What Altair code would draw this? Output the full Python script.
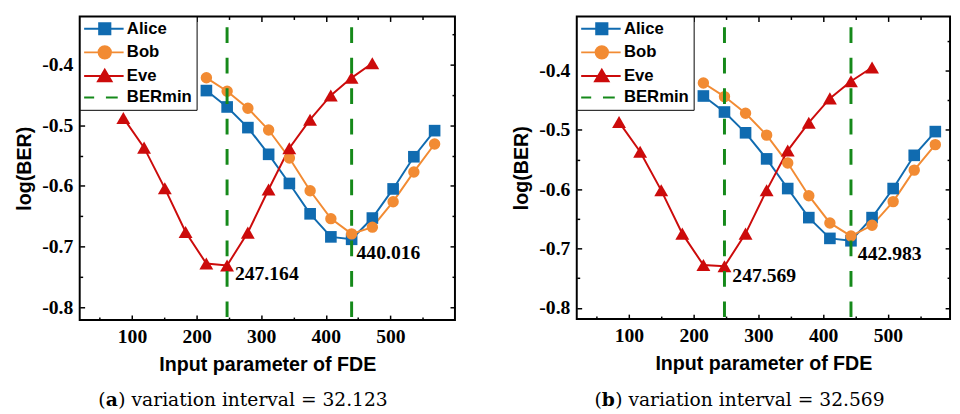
import altair as alt
import pandas as pd

# ---------------- data ----------------
names = ["Alice", "Bob", "Eve"]
legend_names = ["Alice", "Bob", "Eve", "BERmin"]
colors = ["#106bb0", "#f28b33", "#cc0b0b"]
green = "#15891a"

x_major = [100, 200, 300, 400, 500]
x_minor = [50, 150, 250, 350, 450, 550]
y_major = [-0.8, -0.7, -0.6, -0.5, -0.4]
y_minor = [-0.75, -0.65, -0.55, -0.45, -0.35]

# panel (a)
a_x_ab = [215.155, 247.278, 279.401, 311.524, 343.647, 375.770, 407.893, 440.016,
          472.139, 504.262, 536.385, 568.508]
a_x_eve = [86.549, 118.672, 150.795, 182.918, 215.041, 247.164, 279.287, 311.410,
           343.533, 375.656, 407.779, 439.902, 472.025]
a_alice = [-0.443, -0.470, -0.504, -0.548, -0.596, -0.646, -0.684, -0.688, -0.653,
           -0.605, -0.552, -0.509]
a_bob = [-0.422, -0.444, -0.472, -0.508, -0.554, -0.608, -0.654, -0.679, -0.668,
         -0.626, -0.577, -0.531]
a_eve = [-0.488, -0.537, -0.604, -0.676, -0.728, -0.731, -0.677, -0.606, -0.538,
         -0.491, -0.451, -0.422, -0.398]
a_ber = [247.164, 440.016]
a_ann_y = [-0.731, -0.688]
a_labels = ["247.164", "440.016"]
a_letter = "a"
a_rest = "variation interval = 32.123"

# panel (b)
b_x_ab = [215.000, 247.569, 280.138, 312.707, 345.276, 377.845, 410.414, 442.983,
          475.552, 508.121, 540.690, 573.259]
b_x_eve = [84.724, 117.293, 149.862, 182.431, 215.000, 247.569, 280.138, 312.707,
           345.276, 377.845, 410.414, 442.983, 475.552]
b_alice = [-0.443, -0.470, -0.505, -0.549, -0.599, -0.648, -0.683, -0.687, -0.648,
           -0.599, -0.543, -0.503]
b_bob = [-0.421, -0.444, -0.472, -0.509, -0.556, -0.611, -0.657, -0.679, -0.661,
         -0.621, -0.568, -0.525]
b_eve = [-0.487, -0.537, -0.602, -0.675, -0.728, -0.730, -0.675, -0.602, -0.535,
         -0.488, -0.447, -0.418, -0.395]
b_ber = [247.569, 442.983]
b_ann_y = [-0.730, -0.687]
b_labels = ["247.569", "442.983"]
b_letter = "b"
b_rest = "variation interval = 32.569"

# legend symbols (custom paths: line segment + marker)
legend_paths = [
    "M-3.5,0H3.2M-0.95,-0.95H0.95V0.95H-0.95Z",
    "M-3.5,0H3.2M-1.05,0A1.05,1.05,0,1,1,1.05,0A1.05,1.05,0,1,1,-1.05,0Z",
    "M-3.5,0H3.2M0,-1.05L1.15,0.9L-1.15,0.9Z",
    "M-3.5,0H-1.8M0.2,0H2.2",
]
legend_colors = colors + [green]

SERIF = "Liberation Serif"
SANS = "Liberation Sans"
CAPFONT = "DejaVu Serif"
MINUS = "\u2212"


def panel(x_ab, x_eve, alice, bob, eve, ber, ann_y, labels, letter, rest,
          xdom, ydom, W, H, ann_dx, ann_dy, cap_x, cap_y, letter_w):
    df = pd.DataFrame({
        "x": x_ab + x_ab + x_eve,
        "y": alice + bob + eve,
        "series": ["Alice"] * len(x_ab) + ["Bob"] * len(x_ab) + ["Eve"] * len(x_eve),
    })
    X = alt.Scale(domain=xdom, nice=False, zero=False)
    Y = alt.Scale(domain=ydom, nice=False, zero=False)
    col = alt.Scale(domain=names, range=colors)
    base = alt.Chart(df)

    xaxis = alt.Axis(orient="bottom", values=x_major, ticks=False, tickSize=0, domain=False,
                     grid=False, labelFont=SERIF, labelFontWeight="bold", labelFontSize=20,
                     labelColor="black", labelPadding=7, title="Input parameter of FDE",
                     titleFont=SANS, titleFontWeight="bold", titleFontSize=20,
                     titleColor="black", titlePadding=8)
    yaxis = alt.Axis(orient="left", values=y_major, ticks=False, tickSize=0, domain=False,
                     grid=False, labelFont=SERIF, labelFontWeight="bold", labelFontSize=20,
                     labelColor="black", labelPadding=7,
                     labelExpr="replace(format(datum.value, '.1f'), '" + MINUS + "', '-')",
                     title="log(BER)", titleFont=SANS, titleFontWeight="bold",
                     titleFontSize=20, titleColor="black", titlePadding=7)

    lines = base.mark_line(strokeWidth=2).encode(
        x=alt.X("x:Q", scale=X, axis=xaxis),
        y=alt.Y("y:Q", scale=Y, axis=yaxis),
        color=alt.Color("series:N", scale=col, legend=None),
        detail="series:N",
    )

    point_specs = [("Alice", "square", 140, colors[0]),
                   ("Bob", "circle", 135, colors[1]),
                   ("Eve", "triangle-up", 200, colors[2])]
    pts = []
    for s, shp, sz, c in point_specs:
        pts.append(
            base.transform_filter(alt.datum.series == s)
            .mark_point(filled=True, opacity=1, shape=shp, size=sz, color=c)
            .encode(x=alt.X("x:Q", scale=X, axis=None), y=alt.Y("y:Q", scale=Y, axis=None))
        )

    rules = alt.Chart(pd.DataFrame({"x": ber})).mark_rule(
        color=green, strokeWidth=3, strokeDash=[16, 15], strokeDashOffset=20
    ).encode(x=alt.X("x:Q", scale=X, axis=None))

    adf = pd.DataFrame({"x": ber, "y": ann_y, "label": labels})
    anns = []
    for i in range(2):
        anns.append(
            alt.Chart(adf.iloc[[i]]).mark_text(
                font=SERIF, fontWeight="bold", fontSize=20, align="left",
                baseline="middle", dx=ann_dx[i], dy=ann_dy[i], color="black"
            ).encode(x=alt.X("x:Q", scale=X, axis=None), y=alt.Y("y:Q", scale=Y, axis=None),
                     text="label:N")
        )

    leg = alt.Legend(title=None, orient="top-left", offset=0, padding=4,
                     strokeColor="black", fillColor="white", symbolSize=144,
                     symbolStrokeWidth=2, symbolOpacity=1, symbolOffset=13, labelOffset=14,
                     rowPadding=3, labelFont=SANS, labelFontWeight="bold", labelFontSize=17,
                     labelColor="black", labelLimit=300)
    legend_layer = base.transform_filter("false").mark_point(strokeWidth=2, opacity=1).encode(
        x=alt.X("x:Q", scale=X, axis=None),
        y=alt.Y("y:Q", scale=Y, axis=None),
        fill=alt.Fill("series:N", scale=alt.Scale(domain=legend_names, range=legend_colors), legend=leg),
        stroke=alt.Stroke("series:N", scale=alt.Scale(domain=legend_names, range=legend_colors), legend=leg),
        shape=alt.Shape("series:N", scale=alt.Scale(domain=legend_names, range=legend_paths), legend=leg),
    )

    def tick_layer(channel, orient, values, size):
        empty = base.transform_filter("false").mark_point()
        if channel == "x":
            ax = alt.Axis(orient=orient, offset=-H, values=values, tickSize=size, tickWidth=1.5,
                          tickColor="black", labels=False, domain=False, grid=False, title=None)
            return empty.encode(x=alt.X("x:Q", scale=X, axis=ax), y=alt.Y("y:Q", scale=Y, axis=None))
        ax = alt.Axis(orient=orient, offset=-W, values=values, tickSize=size, tickWidth=1.5,
                      tickColor="black", labels=False, domain=False, grid=False, title=None)
        return empty.encode(x=alt.X("x:Q", scale=X, axis=None), y=alt.Y("y:Q", scale=Y, axis=ax))

    ticks = [
        tick_layer("x", "top", x_major, 5), tick_layer("x", "top", x_minor, 3),
        tick_layer("x", "bottom", x_major, 5), tick_layer("x", "bottom", x_minor, 3),
        tick_layer("y", "right", y_major, 5), tick_layer("y", "right", y_minor, 3),
        tick_layer("y", "left", y_major, 5), tick_layer("y", "left", y_minor, 3),
    ]

    cdf = pd.DataFrame({"t": ["(", letter, ")", rest]})
    xs = [cap_x, cap_x + 7.5, cap_x + 7.5 + letter_w, cap_x + 7.5 + letter_w + 13.5]
    weights = ["normal", "bold", "normal", "normal"]
    caps = []
    for i in range(4):
        caps.append(
            alt.Chart(cdf.iloc[[i]]).mark_text(
                font=CAPFONT, fontSize=19, fontWeight=weights[i], align="left",
                baseline="middle", color="black"
            ).encode(x=alt.value(xs[i]), y=alt.value(cap_y), text="t:N")
        )

    layers = [lines] + pts + [rules] + anns + [legend_layer] + ticks + caps
    return alt.layer(*layers).properties(width=W, height=H).resolve_axis(
        x="independent", y="independent")


pa = panel(a_x_ab, a_x_eve, a_alice, a_bob, a_eve, a_ber, a_ann_y, a_labels, a_letter, a_rest,
           [19, 600], [-0.821, -0.321], 382, 309, [8, 5], [9, 14], 19, 391, 12.8)
pb = panel(b_x_ab, b_x_eve, b_alice, b_bob, b_eve, b_ber, b_ann_y, b_labels, b_letter, b_rest,
           [19.4, 596], [-0.819, -0.309], 380, 308, [8, 7], [10, 14], 18, 391, 13.6)

chart = alt.hconcat(pa, pb, spacing=55).resolve_scale(
    color="independent", fill="independent", stroke="independent", shape="independent"
).properties(
    padding={"left": 6, "top": 2, "right": 0, "bottom": 0}
).configure_view(stroke="black", strokeWidth=2)

chart.save("out.html", embed_options={"renderer": "svg", "actions": False})
